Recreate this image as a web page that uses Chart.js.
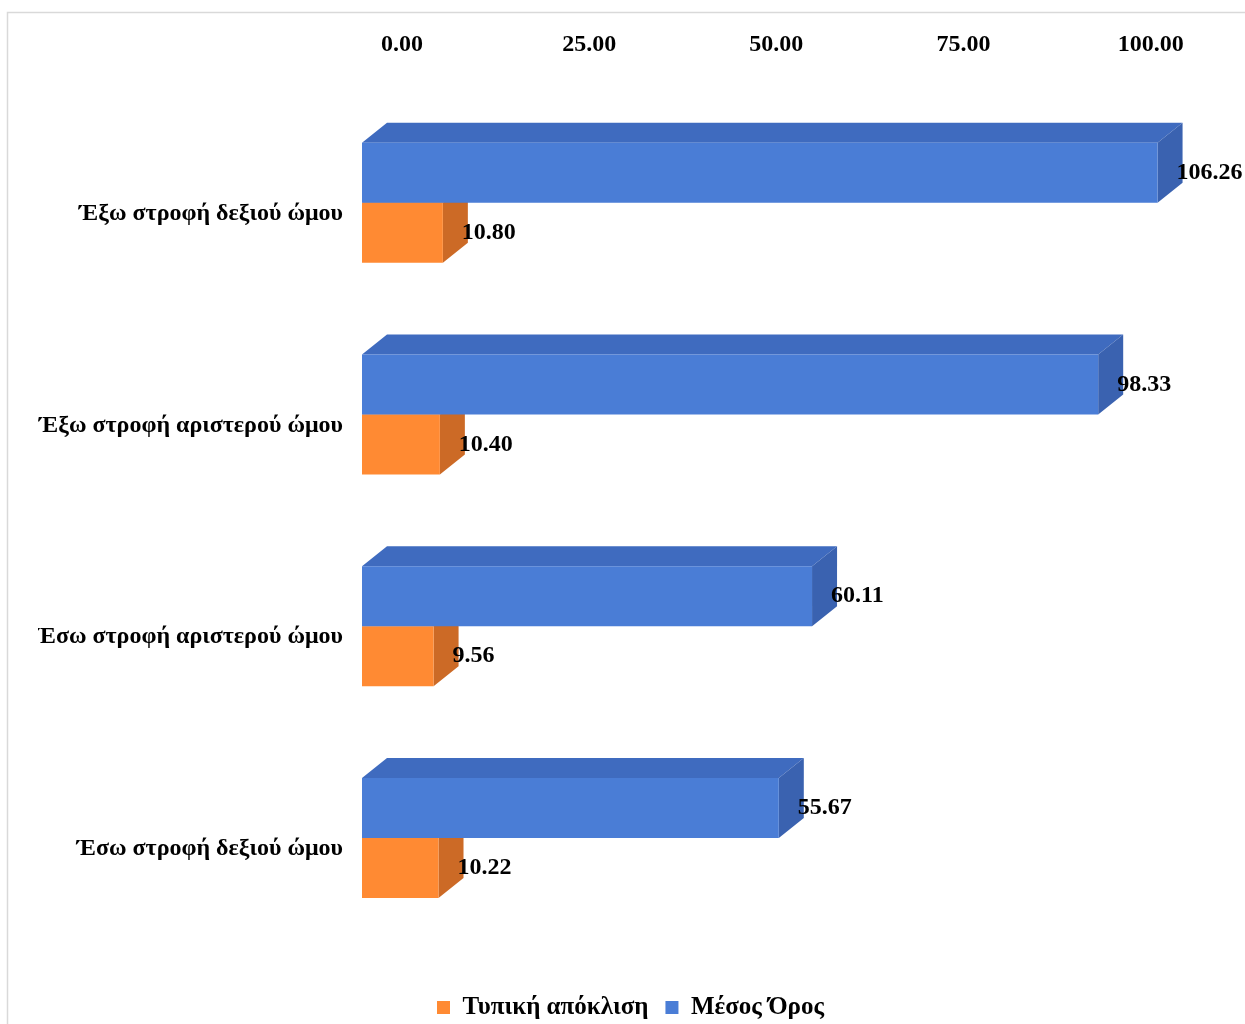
<!DOCTYPE html>
<html>
<head>
<meta charset="utf-8">
<script src="https://cdn.jsdelivr.net/npm/chart.js@4.4.1/dist/chart.umd.min.js"></script>
<style>
  html, body { margin: 0; padding: 0; background: #fff; }
  #wrap { width: 1245px; height: 1024px; position: relative; }
</style>
</head>
<body>
<div id="wrap"><canvas id="myChart"></canvas></div>
<script>
const categories = [
  'Έξω στροφή δεξιού ώμου',
  'Έξω στροφή αριστερού ώμου',
  'Έσω στροφή αριστερού ώμου',
  'Έσω στροφή δεξιού ώμου'
];
const meanValues = [106.26, 98.33, 60.11, 55.67];
const sdValues = [10.80, 10.40, 9.56, 10.22];
const tickValues = [0, 25, 50, 75, 100];

const FONT = "'Liberation Serif', 'Times New Roman', serif";

// colours for front / top / side faces
const faces = [
  { front: '#4a7dd6', top: '#3f6bbf', side: '#3a62b0' },
  { front: '#ff8a33', top: '#e0772b', side: '#cc6a26' }
];

// pseudo 3d faces behind the bars + value labels
const depthPlugin = {
  id: 'depth',
  beforeDatasetsDraw(chart) {
    const ctx = chart.ctx;
    const dx = 25, dy = -20;
    ctx.save();
    chart.data.datasets.forEach((ds, i) => {
      const meta = chart.getDatasetMeta(i);
      meta.data.forEach(bar => {
        const l = bar.base, r = bar.x;
        const t = bar.y - bar.height / 2, b = bar.y + bar.height / 2;
        ctx.fillStyle = faces[i].top;
        ctx.beginPath();
        ctx.moveTo(l, t); ctx.lineTo(l + dx, t + dy);
        ctx.lineTo(r + dx, t + dy); ctx.lineTo(r, t);
        ctx.closePath(); ctx.fill();
        ctx.fillStyle = faces[i].side;
        ctx.beginPath();
        ctx.moveTo(r, t); ctx.lineTo(r + dx, t + dy);
        ctx.lineTo(r + dx, b + dy); ctx.lineTo(r, b);
        ctx.closePath(); ctx.fill();
      });
    });
    ctx.restore();
  },
  afterDatasetsDraw(chart) {
    const ctx = chart.ctx;
    ctx.save();
    ctx.font = 'bold 24px ' + FONT;
    ctx.fillStyle = '#000';
    ctx.textAlign = 'left';
    ctx.textBaseline = 'middle';
    chart.data.datasets.forEach((ds, i) => {
      const meta = chart.getDatasetMeta(i);
      meta.data.forEach((bar, j) => {
        ctx.fillText(ds.data[j].toFixed(2), bar.x + 19, bar.y);
      });
    });
    ctx.restore();
  }
};

const framePlugin = {
  id: 'frame',
  beforeDraw(chart) {
    const ctx = chart.ctx;
    ctx.save();
    ctx.strokeStyle = '#d9d9d9';
    ctx.lineWidth = 1.5;
    ctx.beginPath();
    ctx.moveTo(7.5, 1030); ctx.lineTo(7.5, 12.5); ctx.lineTo(1250, 12.5);
    ctx.stroke();
    ctx.restore();
  }
};

const data = {
  labels: categories,
  datasets: [{
    label: 'Μέσος Όρος',
    data: meanValues,
    backgroundColor: faces[0].front,
    borderWidth: 0
  }, {
    label: 'Τυπική απόκλιση',
    data: sdValues,
    backgroundColor: faces[1].front,
    borderWidth: 0
  }]
};

const config = {
  type: 'bar',
  data: data,
  plugins: [framePlugin, depthPlugin],
  options: {
    indexAxis: 'y',
    maintainAspectRatio: false,
    responsive: true,
    animation: false,
    datasets: {
      bar: { categoryPercentage: 0.567, barPercentage: 1 }
    },
    layout: {
      padding: { top: 0, left: 38, right: 22, bottom: -6 }
    },
    plugins: {
      tooltip: { enabled: false },
      legend: {
        position: 'bottom',
        reverse: true,
        title: { display: true, text: '', padding: { top: 33, bottom: 0 }, font: { size: 1 } },
        labels: {
          boxWidth: 13,
          boxHeight: 13,
          padding: 17,
          color: '#000',
          font: { family: FONT, size: 25, weight: 'bold' }
        }
      }
    },
    scales: {
      x: {
        position: 'top',
        min: 0,
        max: 115,
        afterFit(scale) { scale.height = 97; },
        afterBuildTicks(scale) { scale.ticks = tickValues.map(v => ({ value: v })); },
        grid: { display: false, drawTicks: false },
        border: { display: false },
        ticks: {
          padding: 38,
          labelOffset: 40,
          color: '#000',
          font: { family: FONT, size: 24, weight: 'bold' },
          callback: v => Number(v).toFixed(2)
        }
      },
      y: {
        afterFit(scale) { scale.width = 324; },
        grid: { display: false, drawTicks: false },
        border: { display: false },
        ticks: {
          padding: 19,
          labelOffset: 11,
          color: '#000',
          font: { family: FONT, size: 24, weight: 'bold' }
        }
      }
    }
  }
};

const myChart = new Chart(document.getElementById('myChart'), config);
</script>
</body>
</html>
